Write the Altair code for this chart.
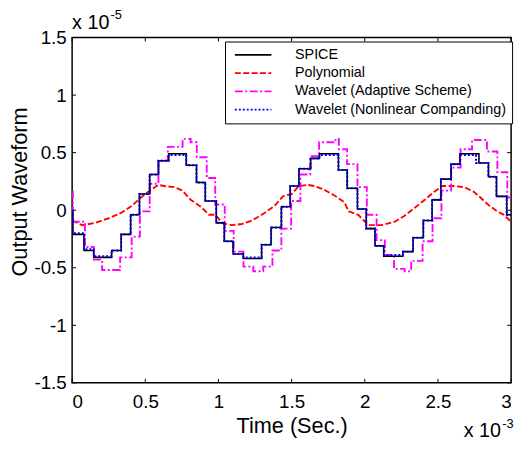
import altair as alt
import pandas as pd

# ---- data (time in ms, value in 1e-5 units) ----
series_names = ["SPICE", "Polynomial", "Wavelet (Adaptive Scheme)", "Wavelet (Nonlinear Companding)"]
series_colors = ["#000000", "#ff0000", "#ff00ff", "#0000ff"]
series_dashes = [[1, 0], [6, 2.5], [8, 2.5, 2, 2.5], [2, 2]]

t_spice = [0.0, 0.005, 0.081, 0.148, 0.27, 0.335, 0.40, 0.46, 0.53, 0.59, 0.66, 0.78, 0.85, 0.91, 0.985,
           1.04, 1.10, 1.17, 1.295, 1.36, 1.43, 1.49, 1.55, 1.63, 1.69, 1.82, 1.88, 1.95, 2.01, 2.07,
           2.13, 2.26, 2.33, 2.40, 2.46, 2.52, 2.59, 2.65, 2.78, 2.845, 2.90, 2.97, 3.0]
v_spice = [-0.02, -0.21, -0.35, -0.41, -0.35, -0.21, -0.04, 0.14, 0.31, 0.43, 0.49, 0.39, 0.24, 0.08, -0.11,
           -0.27, -0.38, -0.42, -0.30, -0.15, 0.03, 0.21, 0.36, 0.45, 0.49, 0.35, 0.19, 0.01, -0.16, -0.31,
           -0.40, -0.36, -0.24, -0.09, 0.09, 0.27, 0.40, 0.49, 0.41, 0.29, 0.12, -0.04, -0.04]

t_nonlin = [0.0, 0.005, 0.081, 0.148, 0.27, 0.335, 0.40, 0.46, 0.53, 0.59, 0.66, 0.78, 0.85, 0.91, 0.985,
            1.04, 1.10, 1.17, 1.295, 1.36, 1.43, 1.49, 1.55, 1.63, 1.69, 1.82, 1.88, 1.95, 2.01, 2.07,
            2.13, 2.26, 2.33, 2.40, 2.46, 2.52, 2.59, 2.65, 2.76, 2.845, 2.90, 2.97, 3.0]
v_nonlin = [-0.01, -0.20, -0.34, -0.40, -0.35, -0.21, -0.04, 0.14, 0.31, 0.43, 0.48, 0.39, 0.24, 0.08, -0.11,
            -0.27, -0.38, -0.41, -0.30, -0.15, 0.03, 0.21, 0.36, 0.45, 0.48, 0.35, 0.19, 0.01, -0.16, -0.31,
            -0.39, -0.36, -0.24, -0.09, 0.09, 0.27, 0.40, 0.48, 0.41, 0.29, 0.12, -0.04, -0.04]

t_adapt = [0.0, 0.005, 0.088, 0.148, 0.205, 0.328, 0.407, 0.463, 0.53, 0.59, 0.654, 0.755, 0.81, 0.852, 0.92,
           0.978, 1.043, 1.104, 1.171, 1.238, 1.306, 1.369, 1.43, 1.497, 1.56, 1.627, 1.688, 1.80, 1.823, 1.879,
           1.95, 2.014, 2.081, 2.137, 2.20, 2.272, 2.317, 2.395, 2.463, 2.524, 2.59, 2.655, 2.733, 2.835, 2.906,
           2.974, 3.0]
v_adapt = [0.16, -0.10, -0.32, -0.43, -0.52, -0.41, -0.23, -0.01, 0.23, 0.43, 0.55, 0.62, 0.59, 0.46, 0.28,
           0.05, -0.18, -0.36, -0.49, -0.53, -0.49, -0.35, -0.16, 0.08, 0.31, 0.47, 0.59, 0.62, 0.53, 0.40,
           0.20, -0.04, -0.26, -0.39, -0.51, -0.53, -0.44, -0.27, -0.07, 0.17, 0.37, 0.53, 0.61, 0.51, 0.33,
           0.11, 0.11]

t_poly = [0.0, 0.07, 0.16, 0.25, 0.34, 0.41, 0.47, 0.53, 0.59, 0.63, 0.70, 0.755, 0.81, 0.88, 0.935,
          0.98, 1.025, 1.09, 1.16, 1.23, 1.32, 1.385, 1.44, 1.50, 1.55, 1.61, 1.655, 1.72, 1.79, 1.86,
          1.89, 1.955, 2.025, 2.115, 2.205, 2.27, 2.34, 2.41, 2.475, 2.53, 2.61, 2.68, 2.745, 2.79, 2.85,
          2.905, 2.95, 3.0]
v_poly = [-0.09, -0.13, -0.11, -0.07, -0.02, 0.04, 0.11, 0.17, 0.22, 0.21, 0.20, 0.17, 0.09, 0.03, -0.04,
          -0.04, -0.11, -0.13, -0.12, -0.09, -0.02, 0.04, 0.12, 0.14, 0.21, 0.22, 0.21, 0.18, 0.13, 0.07,
          -0.01, -0.04, -0.13, -0.13, -0.10, -0.05, 0.02, 0.09, 0.16, 0.21, 0.21, 0.20, 0.16, 0.11, 0.04,
          -0.01, -0.04, -0.10]

x_ticks = [0, 0.5, 1, 1.5, 2, 2.5, 3]
y_ticks = [-1.5, -1, -0.5, 0, 0.5, 1, 1.5]

# ---- build table ----
rows = []
for name, ts, vs in [("SPICE", t_spice, v_spice), ("Polynomial", t_poly, v_poly),
                     ("Wavelet (Adaptive Scheme)", t_adapt, v_adapt),
                     ("Wavelet (Nonlinear Companding)", t_nonlin, v_nonlin)]:
    for i, (t, v) in enumerate(zip(ts, vs)):
        rows.append({"series": name, "t": t, "v": v, "i": i})
df = pd.DataFrame(rows)

W, H = 445, 350
FONT = "Liberation Sans"

xscale = alt.Scale(domain=[0, 3], nice=False, zero=False)
yscale = alt.Scale(domain=[-1.5, 1.5], nice=False, zero=False)

xaxis = alt.Axis(values=x_ticks, tickSize=0, domain=False, grid=False, labelFont=FONT, labelFontSize=19,
                 labelColor="black", labelPadding=10, labelExpr="'' + datum.value",
                 title="Time (Sec.)", titleFont=FONT, titleFontSize=22, titleFontWeight="normal",
                 titleColor="black", titleX=W / 2, titleY=50, titleBaseline="alphabetic", titleAlign="center")
yaxis = alt.Axis(values=y_ticks, tickSize=0, domain=False, grid=False, labelFont=FONT, labelFontSize=19,
                 labelColor="black", labelPadding=6, labelExpr="'' + datum.value",
                 title="Output Waveform", titleFont=FONT, titleFontSize=22, titleFontWeight="normal",
                 titleColor="black", titleX=-46, titleY=156, titleBaseline="alphabetic",
                 titleAlign="center", titleAngle=270)

legend = alt.Legend(orient="none", legendX=155, legendY=4, title=None, symbolType="stroke",
                    symbolSize=1369, symbolStrokeWidth=1.7, clipHeight=15, rowPadding=2.5,
                    labelFont=FONT, labelFontSize=14.5, labelColor="black", labelOffset=23, symbolOffset=3,
                    padding=6, strokeColor="black", fillColor="white", cornerRadius=0, labelLimit=400)

cscale = alt.Scale(domain=series_names, range=series_colors)
dscale = alt.Scale(domain=series_names, range=series_dashes)


def line(name, interp, width):
    return alt.Chart(df).transform_filter(alt.datum.series == name).mark_line(
        interpolate=interp, strokeWidth=width, clip=True
    ).encode(
        x=alt.X("t:Q", scale=xscale, axis=xaxis),
        y=alt.Y("v:Q", scale=yscale, axis=yaxis),
        color=alt.Color("series:N", scale=cscale, legend=legend),
        strokeDash=alt.StrokeDash("series:N", scale=dscale, legend=legend),
        order="i:Q",
    )


lines = [
    line("Polynomial", "linear", 1.9),
    line("Wavelet (Adaptive Scheme)", "step-after", 1.9),
    line("SPICE", "step-after", 1.6),
    line("Wavelet (Nonlinear Companding)", "step-after", 2.0),
]

xt = pd.DataFrame({"xt": x_ticks})
yt = pd.DataFrame({"yt": y_ticks})
tick_bottom = alt.Chart(xt).mark_rule(color="black", strokeWidth=1).encode(
    x=alt.X("xt:Q", scale=xscale, axis=xaxis), y=alt.value(H), y2=alt.value(H - 4))
tick_top = alt.Chart(xt).mark_rule(color="black", strokeWidth=1).encode(
    x=alt.X("xt:Q", scale=xscale, axis=xaxis), y=alt.value(0), y2=alt.value(4))
tick_left = alt.Chart(yt).mark_rule(color="black", strokeWidth=1).encode(
    y=alt.Y("yt:Q", scale=yscale, axis=yaxis), x=alt.value(0), x2=alt.value(4))
tick_right = alt.Chart(yt).mark_rule(color="black", strokeWidth=1).encode(
    y=alt.Y("yt:Q", scale=yscale, axis=yaxis), x=alt.value(W), x2=alt.value(W - 4))

one = pd.DataFrame({"d": [0]})


def txt(s, x, y, size):
    return alt.Chart(one).mark_text(align="left", baseline="alphabetic", font=FONT, fontSize=size,
                                    color="black").encode(x=alt.value(x), y=alt.value(y), text=alt.value(s))


texts = [
    txt("x 10", 0, -9, 20),
    txt("-5", 39, -19, 13),
    txt("x 10", 397, 405, 20),
    txt("-3", 436, 396, 13),
]

chart = alt.layer(*lines, tick_bottom, tick_top, tick_left, tick_right, *texts).properties(
    width=W, height=H,
    padding={"left": 65, "top": 27, "right": 8, "bottom": 56},
    autosize=alt.AutoSizeParams(type="none"),
    background="white",
).configure_view(stroke="black", strokeWidth=1.5)

chart.save("out.html", embed_options={"renderer": "svg", "actions": False})
